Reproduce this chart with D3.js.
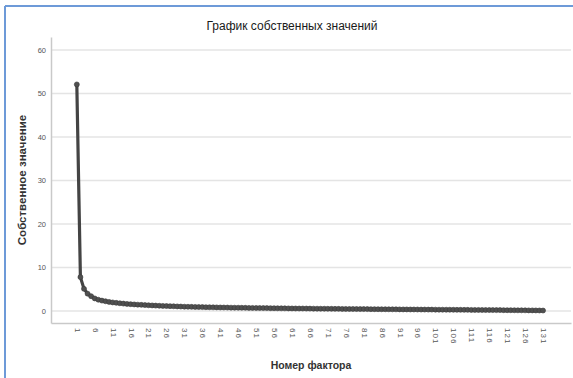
<!DOCTYPE html>
<html>
<head>
<meta charset="utf-8">
<script src="https://cdn.jsdelivr.net/npm/d3@7"></script>
<style>
  body { margin: 0; background: #fff; }
  svg { display: block; font-family: "Liberation Sans", Arial, sans-serif; }
</style>
</head>
<body>
<div id="chart"></div>
<script>
// Eigenvalues (factor 1..131)
const eigenvalues = [
  52.1, 7.8, 5.1, 4.0, 3.4, 2.9, 2.6, 2.4, 2.25, 2.1,
  1.98, 1.88, 1.79, 1.71, 1.64, 1.58, 1.52, 1.47, 1.42, 1.37,
  1.33, 1.29, 1.25, 1.21, 1.18, 1.15, 1.12, 1.09, 1.06, 1.03,
  1.00, 0.98, 0.96, 0.94, 0.92, 0.90, 0.88, 0.87, 0.85, 0.84,
  0.82, 0.81, 0.80, 0.78, 0.77, 0.76, 0.75, 0.74, 0.72, 0.71,
  0.70, 0.69, 0.68, 0.67, 0.66, 0.65, 0.64, 0.63, 0.62, 0.61,
  0.60, 0.59, 0.58, 0.58, 0.57, 0.56, 0.55, 0.54, 0.53, 0.53,
  0.52, 0.51, 0.50, 0.50, 0.49, 0.48, 0.47, 0.47, 0.46, 0.45,
  0.45, 0.44, 0.43, 0.43, 0.42, 0.41, 0.41, 0.40, 0.39, 0.39,
  0.38, 0.37, 0.37, 0.36, 0.36, 0.35, 0.34, 0.34, 0.33, 0.33,
  0.32, 0.31, 0.31, 0.30, 0.30, 0.29, 0.28, 0.28, 0.27, 0.27,
  0.26, 0.25, 0.25, 0.24, 0.23, 0.23, 0.22, 0.21, 0.21, 0.20,
  0.19, 0.19, 0.18, 0.17, 0.17, 0.16, 0.15, 0.15, 0.14, 0.13, 0.12
];
const factors = eigenvalues.map((v, i) => i + 1);
const xTickValues = [1, 6, 11, 16, 21, 26, 31, 36, 41, 46, 51, 56, 61, 66, 71, 76,
  81, 86, 91, 96, 101, 106, 111, 116, 121, 126, 131];
const yTickValues = [0, 10, 20, 30, 40, 50, 60];

const chartTitle = "График собственных значений";
const xTitle = "Номер фактора";
const yTitle = "Собственное значение";

const width = 573, height = 378;
const plot = { left: 51, right: 571, top: 37, bottom: 323 };

const svg = d3.select("#chart").append("svg")
  .attr("width", width)
  .attr("height", height);

// outer frame (blue lines on top and left)
svg.append("line")
  .attr("x1", 5).attr("x2", width).attr("y1", 6).attr("y2", 6)
  .attr("stroke", "#6d9ad8").attr("stroke-width", 2);
svg.append("line")
  .attr("x1", 5).attr("x2", 5).attr("y1", 6).attr("y2", height)
  .attr("stroke", "#6d9ad8").attr("stroke-width", 2);

const x = d3.scaleLinear()
  .domain([-6.2, 138.8])
  .range([plot.left, plot.right]);

const y = d3.scaleLinear()
  .domain([-2.75, 63])
  .range([plot.bottom, plot.top]);

// gridlines
svg.append("g")
  .selectAll("line")
  .data(yTickValues)
  .join("line")
  .attr("x1", plot.left).attr("x2", plot.right)
  .attr("y1", d => y(d)).attr("y2", d => y(d))
  .attr("stroke", "#e4e4e4")
  .attr("stroke-width", 1.5);

// y axis
const yAxis = svg.append("g")
  .attr("transform", `translate(${plot.left},0)`)
  .call(d3.axisLeft(y).tickValues(yTickValues).tickSize(0).tickPadding(5));
yAxis.select(".domain").attr("stroke", "#c9c9c9").attr("stroke-width", 1.5);
yAxis.selectAll("text")
  .attr("fill", "#555")
  .style("font-size", "7.5px");

// x axis
const xAxis = svg.append("g")
  .attr("transform", `translate(0,${plot.bottom})`)
  .call(d3.axisBottom(x).tickValues(xTickValues).tickSize(0).tickFormat(d3.format("d")));
xAxis.select(".domain").attr("stroke", "#c9c9c9").attr("stroke-width", 1.5);
xAxis.selectAll("text")
  .attr("fill", "#555")
  .style("font-size", "8px")
  .style("letter-spacing", "1px")
  .attr("text-anchor", "start")
  .attr("dy", "0.32em")
  .attr("y", 0)
  .attr("transform", "translate(0,5) rotate(90)");

// line
const line = d3.line()
  .x((d, i) => x(factors[i]))
  .y(d => y(d));

svg.append("path")
  .datum(eigenvalues)
  .attr("fill", "none")
  .attr("stroke", "#444")
  .attr("stroke-width", 3.2)
  .attr("stroke-linejoin", "round")
  .attr("d", line);

svg.append("g")
  .selectAll("circle")
  .data(eigenvalues)
  .join("circle")
  .attr("cx", (d, i) => x(factors[i]))
  .attr("cy", d => y(d))
  .attr("r", 2.5)
  .attr("fill", "#505050")
  .attr("stroke", "#3a3a3a")
  .attr("stroke-width", 0.6);

// titles
svg.append("text")
  .attr("x", 292)
  .attr("y", 30)
  .attr("text-anchor", "middle")
  .attr("fill", "#1a1a1a")
  .style("font-size", "12px")
  .text(chartTitle);

svg.append("text")
  .attr("x", 311)
  .attr("y", 369)
  .attr("text-anchor", "middle")
  .attr("fill", "#333")
  .style("font-size", "10.5px")
  .style("font-weight", "bold")
  .text(xTitle);

svg.append("text")
  .attr("transform", `translate(26,${(plot.top + plot.bottom) / 2}) rotate(-90)`)
  .attr("text-anchor", "middle")
  .attr("fill", "#333")
  .style("font-size", "11.5px")
  .style("font-weight", "bold")
  .text(yTitle);
</script>
</body>
</html>
